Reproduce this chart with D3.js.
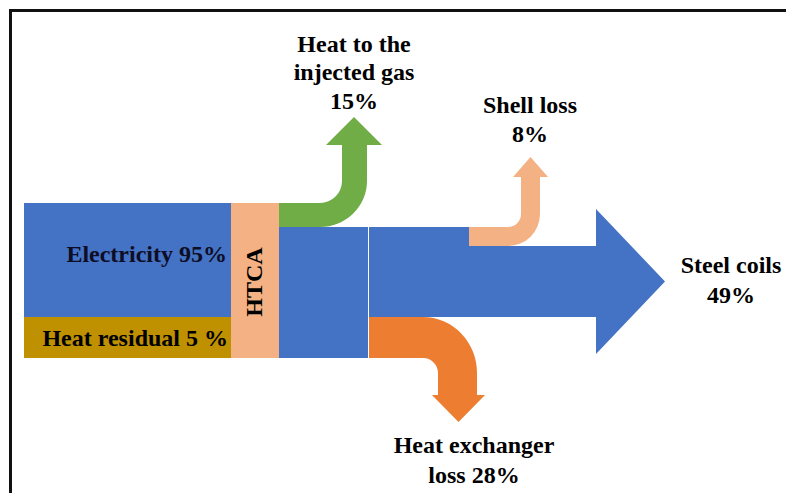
<!DOCTYPE html>
<html>
<head>
<meta charset="utf-8">
<script src="https://cdn.jsdelivr.net/npm/d3@7"></script>
<style>
  html, body { margin: 0; padding: 0; background: #fff; }
  svg { display: block; }
  text { font-family: "Liberation Serif", "Times New Roman", serif; font-weight: bold; font-size: 24px; fill: #000; }
</style>
</head>
<body>
<svg id="chart" width="786" height="493"></svg>
<script>
// ---- data ----
const inputs = ["Electricity", "Heat residual"];
const inputValues = [95, 5];
const inputLabels = ["Electricity 95%", "Heat residual 5 %"];
const hub = "HTCA";
const outputs = ["Heat to the injected gas", "Shell loss", "Steel coils", "Heat exchanger loss"];
const outputValues = [15, 8, 49, 28];
const outputLabels = [
  ["Heat to the", "injected gas", "15%"],
  ["Shell loss", "8%"],
  ["Steel coils", "49%"],
  ["Heat exchanger", "loss 28%"]
];

// ---- layout ----
const W = 786, H = 493;
const svg = d3.select("#chart");
const colors = {
  "Electricity": "#4472C4", "Heat residual": "#BF9000", "HTCA": "#F4B183",
  "Heat to the injected gas": "#70AD47", "Shell loss": "#F4B183",
  "Steel coils": "#4472C4", "Heat exchanger loss": "#ED7D31"
};

// cumulative stacks
const inCum = [0]; inputValues.forEach(v => inCum.push(inCum[inCum.length - 1] + v));
const outCum = [0]; outputValues.forEach(v => outCum.push(outCum[outCum.length - 1] + v));

// band position scales (polylinear, non-proportional like the original drawing)
const yIn = d3.scaleLinear().domain(inCum).range([203, 317, 358]);
const yOut = d3.scaleLinear().domain(outCum).range([203, 227, 246, 317, 358]);

// x stages
const xStage = d3.scaleOrdinal()
  .domain(["start", "hub", "mix", "split", "shell", "shaftEnd", "tip"])
  .range([24, 231, 279, 369, 469, 596, 665]);
const hubW = 48;

// frame
svg.append("path").attr("d", `M10.5,${H} V10.5 H${W}`)
  .attr("fill", "none").attr("stroke", "#111").attr("stroke-width", 3);

// input bars
inputs.forEach((n, i) => {
  svg.append("rect")
    .attr("x", xStage("start")).attr("y", yIn(inCum[i]))
    .attr("width", xStage("hub") - xStage("start"))
    .attr("height", yIn(inCum[i + 1]) - yIn(inCum[i]))
    .attr("fill", colors[n]);
});

// HTCA hub
svg.append("rect")
  .attr("x", xStage("hub")).attr("y", yIn(0))
  .attr("width", hubW).attr("height", yIn(100) - yIn(0))
  .attr("fill", colors[hub]);

// mixing block (everything except the gas branch)
svg.append("rect")
  .attr("x", xStage("mix")).attr("y", yOut(outCum[1]))
  .attr("width", xStage("split") - 1 - xStage("mix"))
  .attr("height", yOut(outCum[4]) - yOut(outCum[1]))
  .attr("fill", colors["Steel coils"]);

// up-elbow arrow generator
function upElbow(x0, yt, yb, xl, xr, ri, baseY, headL, headR, tipY) {
  const cx = xl - ri, cy = yt - ri;
  const rxo = ri + (xr - xl), ryo = ri + (yb - yt);
  const tipX = (headL + headR) / 2;
  return `M${x0},${yt} L${cx},${yt} A${ri},${ri} 0 0 0 ${xl},${cy} L${xl},${baseY} L${headL},${baseY} L${tipX},${tipY} L${headR},${baseY} L${xr},${baseY} L${xr},${cy} A${rxo},${ryo} 0 0 1 ${cx},${yb} L${x0},${yb} Z`;
}
function downElbow(x0, yt, yb, xl, xr, ri, baseY, headL, headR, tipY) {
  const cx = xl - ri, cy = yb + ri;
  const rxo = ri + (xr - xl), ryo = ri + (yb - yt);
  const tipX = (headL + headR) / 2;
  return `M${x0},${yt} L${cx},${yt} A${rxo},${ryo} 0 0 1 ${xr},${cy} L${xr},${baseY} L${headR},${baseY} L${tipX},${tipY} L${headL},${baseY} L${xl},${baseY} L${xl},${cy} A${ri},${ri} 0 0 0 ${cx},${yb} L${x0},${yb} Z`;
}

// gas branch (green)
svg.append("path")
  .attr("d", upElbow(xStage("mix"), yOut(outCum[0]), yOut(outCum[1]), 342, 367, 22, 145, 326, 382, 117))
  .attr("fill", colors[outputs[0]]);

// steel coils main arrow
const sT0 = yOut(outCum[1]), sT1 = yOut(outCum[2]), sB = yOut(outCum[3]);
const mid = (sT1 + sB) / 2, headHalf = 72.5;
const mainPts = [
  [xStage("split"), sT0], [xStage("shell"), sT0], [xStage("shell"), sT1],
  [xStage("shaftEnd"), sT1], [xStage("shaftEnd"), mid - headHalf], [xStage("tip"), mid],
  [xStage("shaftEnd"), mid + headHalf], [xStage("shaftEnd"), sB], [xStage("split"), sB]
];
svg.append("path").attr("d", d3.line()(mainPts) + "Z").attr("fill", colors["Steel coils"]);

// shell loss branch (peach)
svg.append("path")
  .attr("d", upElbow(xStage("shell"), yOut(outCum[1]), yOut(outCum[2]), 521, 540, 13, 177, 513, 548, 157))
  .attr("fill", colors[outputs[1]]);

// heat exchanger loss (orange)
svg.append("path")
  .attr("d", downElbow(xStage("split"), yOut(outCum[3]), yOut(outCum[4]), 438, 477, 15, 395, 432, 485, 422))
  .attr("fill", colors[outputs[3]]);

// ---- labels ----
svg.append("text").attr("x", 227).attr("y", 262).attr("text-anchor", "end")
  .style("fill", "#0d0d26").text(inputLabels[0]);
svg.append("text").attr("x", 228).attr("y", 346).attr("text-anchor", "end")
  .text(inputLabels[1]);
svg.append("text").attr("transform", "translate(261.5,282) rotate(-90)")
  .attr("text-anchor", "middle").text(hub);

const labelPos = [
  { x: 354, ys: [51.5, 80, 108.5] },
  { x: 530, ys: [113, 142] },
  { x: 731, ys: [273, 303] },
  { x: 474, ys: [453, 482.5] }
];
outputLabels.forEach((lines, i) => {
  lines.forEach((t, j) => {
    svg.append("text").attr("x", labelPos[i].x).attr("y", labelPos[i].ys[j])
      .attr("text-anchor", "middle").text(t);
  });
});
</script>
</body>
</html>
